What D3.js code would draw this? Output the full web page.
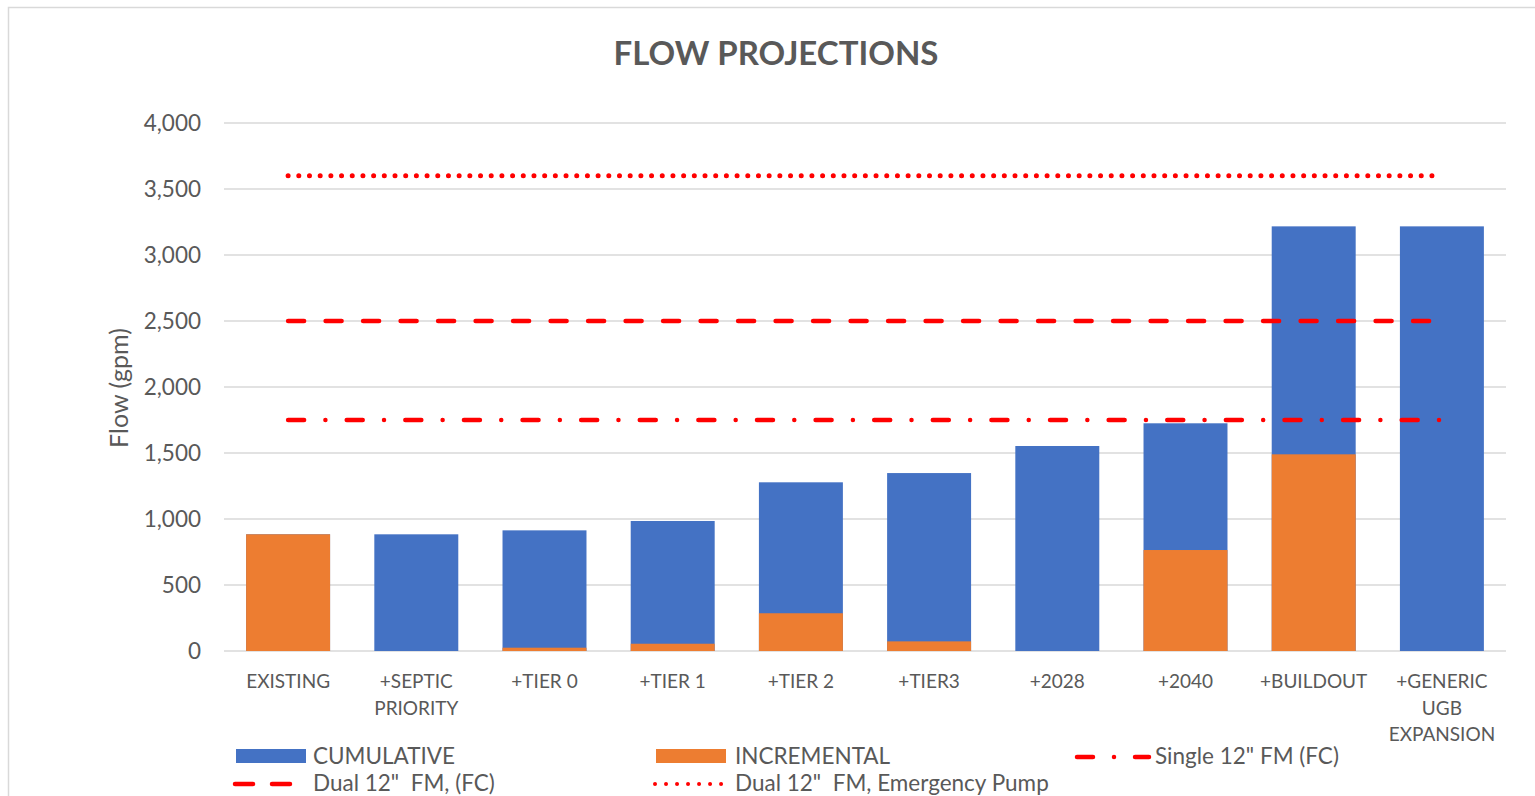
<!DOCTYPE html>
<html>
<head>
<meta charset="utf-8">
<script src="https://cdn.jsdelivr.net/npm/d3@7"></script>
<style>
  html, body { margin: 0; padding: 0; background: #fff; }
  svg { display: block; }
  text { font-family: Lato, "Open Sans", "DejaVu Sans", sans-serif; fill: #595959; }
</style>
</head>
<body>
<svg id="chart" width="1535" height="796"></svg>
<script>
// ---- data ----
const categories = ["EXISTING", "+SEPTIC\nPRIORITY", "+TIER 0", "+TIER 1", "+TIER 2", "+TIER3", "+2028", "+2040", "+BUILDOUT", "+GENERIC\nUGB\nEXPANSION"];
const cumulative = [884, 884, 914, 985, 1278, 1348, 1553, 1725, 3217, 3217];
const incremental = [884, 0, 25, 55, 286, 73, 0, 765, 1490, 0];
const singleFM = [1750, 1750, 1750, 1750, 1750, 1750, 1750, 1750, 1750, 1750];
const dualFM = [2500, 2500, 2500, 2500, 2500, 2500, 2500, 2500, 2500, 2500];
const emergencyFM = [3600, 3600, 3600, 3600, 3600, 3600, 3600, 3600, 3600, 3600];
const yTicks = [0, 500, 1000, 1500, 2000, 2500, 3000, 3500, 4000];
const title = "FLOW PROJECTIONS";
const yTitle = "Flow (gpm)";

// ---- layout ----
const svg = d3.select("#chart");
const plot = { left: 224, right: 1506, top: 123, bottom: 651 };
const blue = "#4472C4", orange = "#ED7D31", red = "#FF0000";

// chart border
svg.append("rect").attr("x", 8.5).attr("y", 7.5).attr("width", 1540).attr("height", 800)
  .attr("fill", "none").attr("stroke", "#d9d9d9").attr("stroke-width", 1.5);

const x = d3.scaleBand().domain(categories).range([plot.left, plot.right])
  .paddingInner(0.345).paddingOuter(0.1725);
const y = d3.scaleLinear().domain([0, 4000]).range([plot.bottom, plot.top]);

// gridlines
svg.append("g").selectAll("line").data(yTicks).join("line")
  .attr("x1", plot.left).attr("x2", plot.right)
  .attr("y1", d => y(d)).attr("y2", d => y(d))
  .attr("stroke", "#d9d9d9").attr("stroke-width", 1.5);

// y axis labels
const yAxis = d3.axisLeft(y).tickValues(yTicks).tickFormat(d3.format(",")).tickSize(0).tickPadding(0);
const ya = svg.append("g").attr("transform", "translate(201,0)").call(yAxis);
ya.select(".domain").remove();
ya.selectAll("text").style("font-family", "Lato, 'Open Sans', sans-serif").style("font-size", "22.5px").attr("fill", "#595959");

// bars
svg.append("g").selectAll("rect").data(categories).join("rect")
  .attr("x", d => x(d)).attr("width", x.bandwidth())
  .attr("y", (d, i) => y(cumulative[i])).attr("height", (d, i) => y(0) - y(cumulative[i]))
  .attr("fill", blue);
svg.append("g").selectAll("rect").data(categories).join("rect")
  .attr("x", d => x(d)).attr("width", x.bandwidth())
  .attr("y", (d, i) => y(incremental[i])).attr("height", (d, i) => y(0) - y(incremental[i]))
  .attr("fill", orange);

// x axis labels
const xa = svg.append("g");
categories.forEach(c => {
  const t = xa.append("text").attr("x", x(c) + x.bandwidth() / 2).attr("y", 688)
    .attr("text-anchor", "middle").style("font-size", "19px");
  c.split("\n").forEach((ln, k) => {
    t.append("tspan").attr("x", x(c) + x.bandwidth() / 2).attr("dy", k === 0 ? 0 : 26.5).text(ln);
  });
});

// reference lines
const cx = c => x(c) + x.bandwidth() / 2;
const line = vals => d3.line().x((d, i) => cx(categories[i])).y((d, i) => y(vals[i]))(vals);
const styles = {
  single: { dash: "16 21.3 0.01 21.3", w: 4.5 },
  dual: { dash: "16 21.5", w: 4.5 },
  emerg: { dash: "0.01 10.68", w: 5 }
};
[[singleFM, styles.single], [dualFM, styles.dual], [emergencyFM, styles.emerg]].forEach(([vals, s]) => {
  svg.append("path").attr("d", line(vals)).attr("fill", "none").attr("stroke", red)
    .attr("stroke-width", s.w).attr("stroke-linecap", "round").attr("stroke-dasharray", s.dash);
});

// title
svg.append("text").attr("x", 776).attr("y", 65).attr("text-anchor", "middle")
  .style("font-size", "33px").style("font-weight", "bold").text(title);

// y title
svg.append("text").attr("transform", "translate(128,388) rotate(-90)").attr("text-anchor", "middle")
  .style("font-size", "25px").text(yTitle);

// legend
const lg = svg.append("g").style("font-size", "22.5px");
lg.append("rect").attr("x", 236).attr("y", 749).attr("width", 70).attr("height", 14).attr("fill", blue);
lg.append("text").attr("x", 313).attr("y", 764).text("CUMULATIVE");
lg.append("rect").attr("x", 656).attr("y", 749).attr("width", 70).attr("height", 14).attr("fill", orange);
lg.append("text").attr("x", 735).attr("y", 764).text("INCREMENTAL");
lg.append("line").attr("x1", 1077).attr("x2", 1149).attr("y1", 757).attr("y2", 757)
  .attr("stroke", red).attr("stroke-width", 4.5).attr("stroke-linecap", "round").attr("stroke-dasharray", "16 21 0.01 21");
lg.append("text").attr("x", 1155).attr("y", 764).text("Single 12\" FM (FC)");
lg.append("line").attr("x1", 235).attr("x2", 290).attr("y1", 784).attr("y2", 784)
  .attr("stroke", red).attr("stroke-width", 4.5).attr("stroke-linecap", "round").attr("stroke-dasharray", "18 19");
lg.append("text").attr("x", 313).attr("y", 791).style("white-space", "pre").text("Dual 12\"  FM, (FC)");
lg.append("line").attr("x1", 655).attr("x2", 722).attr("y1", 784).attr("y2", 784)
  .attr("stroke", red).attr("stroke-width", 4).attr("stroke-linecap", "round").attr("stroke-dasharray", "0.01 11");
lg.append("text").attr("x", 735).attr("y", 791).style("white-space", "pre").text("Dual 12\"  FM, Emergency Pump");
</script>
</body>
</html>
